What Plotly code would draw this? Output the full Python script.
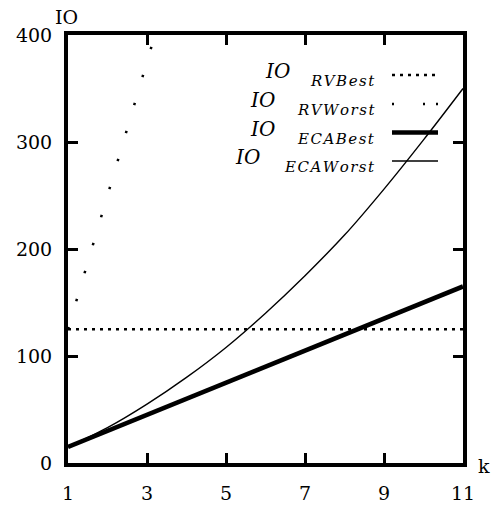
import plotly.graph_objects as go

# ---- data ----
k_vals = [1, 2, 3, 4, 5, 6, 7, 8, 9, 10, 11]
io_rv_best = [125, 125, 125, 125, 125, 125, 125, 125, 125, 125, 125]
k_rv_worst = [1, 2, 3, 3.2]
io_rv_worst = [125, 250, 375, 400]
io_eca_best = [15, 30, 45, 60, 75, 90, 105, 120, 135, 150, 165]
io_eca_worst = [15, 33, 55, 80, 108, 140, 175, 213, 256, 302, 350]

x_ticks = [1, 3, 5, 7, 9, 11]
y_ticks = [0, 100, 200, 300, 400]

legend_main = ["IO", "IO", "IO", "IO"]
legend_sub = ["RVBest", "RVWorst", "ECABest", "ECAWorst"]

SERIF = "DejaVu Serif"
W, H = 493, 505
L, R, T, B = 68, 30, 35, 42
PW, PH = W - L - R, H - T - B


def px(x):
    return (x - L) / PW


def py(y):
    return (H - B - y) / PH


fig = go.Figure()
fig.add_trace(go.Scatter(x=k_vals, y=io_rv_best, mode="lines",
                         line=dict(color="black", width=2.5, dash="3px,5px")))
fig.add_trace(go.Scatter(x=k_rv_worst, y=io_rv_worst, mode="lines",
                         line=dict(color="black", width=2.5, dash="2.5px,26.7px")))
fig.add_trace(go.Scatter(x=k_vals, y=io_eca_best, mode="lines",
                         line=dict(color="black", width=4.5)))
fig.add_trace(go.Scatter(x=k_vals, y=io_eca_worst, mode="lines",
                         line=dict(color="black", width=1.4, shape="spline")))

# ---- hand-made legend (text left of sample, as in the reference) ----
sample_y = [75, 104, 132.5, 161]
io_left = [263, 248, 248, 233]
sub_right = 377
sample_styles = [
    dict(color="black", width=2.5, dash="3px,5px"),
    dict(color="black", width=2.5, dash="2px,29px,2px,11px"),
    dict(color="black", width=4.5),
    dict(color="black", width=1.4),
]
HAIR = "\u200a"
for i in range(4):
    fig.add_shape(type="line", xref="paper", yref="paper",
                  x0=px(392), x1=px(438), y0=py(sample_y[i]), y1=py(sample_y[i]),
                  line=sample_styles[i])
    fig.add_annotation(xref="paper", yref="paper", x=px(io_left[i]), y=py(sample_y[i] - 4),
                       xanchor="left", yanchor="middle", showarrow=False,
                       text="<i>" + legend_main[i] + "</i>",
                       font=dict(family=SERIF, size=20, color="black"))
    fig.add_annotation(xref="paper", yref="paper", x=px(sub_right), y=py(sample_y[i] + 6),
                       xanchor="right", yanchor="middle", showarrow=False,
                       text="<i>" + HAIR.join(legend_sub[i]) + "</i>",
                       font=dict(family=SERIF, size=15, color="black"))

# axis titles
fig.add_annotation(xref="paper", yref="paper", x=px(53), y=py(17), xanchor="left",
                   yanchor="middle", showarrow=False, text="IO",
                   font=dict(family=SERIF, size=19, color="black"))
fig.add_annotation(xref="paper", yref="paper", x=px(492), y=py(466), xanchor="right",
                   yanchor="middle", showarrow=False, text="k",
                   font=dict(family=SERIF, size=19, color="black"))

axis_common = dict(showgrid=False, zeroline=False, showline=True, linecolor="black",
                   linewidth=4, mirror="allticks", ticks="inside", ticklen=10,
                   tickwidth=3, tickcolor="black", automargin=False,
                   tickfont=dict(family=SERIF, size=19, color="black"))
fig.update_xaxes(range=[1, 11], tickvals=x_ticks, ticklabelstandoff=10, **axis_common)
fig.update_yaxes(range=[0, 400], tickvals=y_ticks, ticklabelstandoff=8, **axis_common)

fig.update_layout(width=W, height=H, margin=dict(l=L, r=R, t=T, b=B),
                  paper_bgcolor="white", plot_bgcolor="white", showlegend=False)

fig.write_html("out.html")
